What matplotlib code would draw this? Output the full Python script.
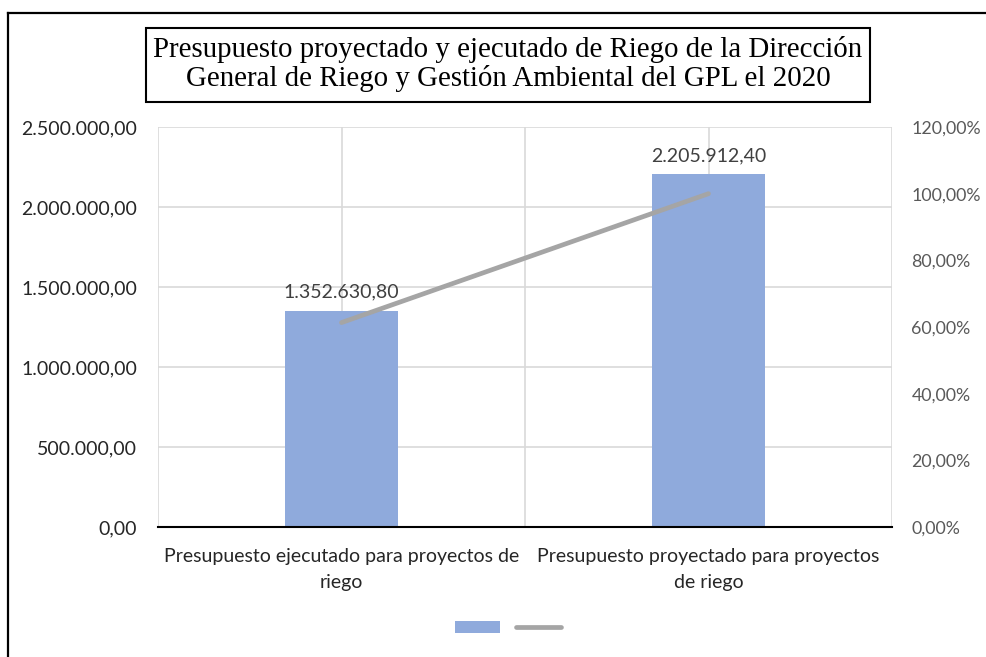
import matplotlib
matplotlib.use("Agg")
import matplotlib.pyplot as plt
from matplotlib.patches import Rectangle, Patch
from matplotlib.lines import Line2D
from matplotlib.ticker import FuncFormatter

# data
categories = ["Presupuesto ejecutado para proyectos de\nriego",
              "Presupuesto proyectado para proyectos\nde riego"]
montos = [1352630.80, 2205912.40]
porcentajes = [0.6132, 1.00]
left_ticks = [0, 500000, 1000000, 1500000, 2000000, 2500000]
right_ticks = [0, 0.2, 0.4, 0.6, 0.8, 1.0, 1.2]
title = ("Presupuesto proyectado y ejecutado de Riego de la Dirección\n"
         "General de Riego y Gestión Ambiental del GPL el 2020")

BAR_C = "#8faadc"
LINE_C = "#a5a5a5"
GRID_C = "#d9d9d9"


def fmt_num(v, pos=None):
    s = "{:,.2f}".format(v)
    return s.replace(",", "X").replace(".", ",").replace("X", ".")


def fmt_pct(v, pos=None):
    return "{:.2f}%".format(v * 100).replace(".", ",")


plt.rcParams['font.family'] = ['Lato', 'DejaVu Sans']

W, H = 987, 657
fig = plt.figure(figsize=(W / 100, H / 100), dpi=100)

# outer chart border: only left and top edges are inside the picture
fig.add_artist(Line2D([8 / W, 8 / W], [0, 1 - 13 / H], transform=fig.transFigure,
                      color="black", lw=1.6))
fig.add_artist(Line2D([8 / W, 1], [1 - 13 / H, 1 - 13 / H], transform=fig.transFigure,
                      color="black", lw=1.6))

ax = fig.add_axes([158 / W, 130 / H, 734 / W, 400 / H])
x = list(range(len(categories)))
bars = ax.bar(x, montos, width=0.31, color=BAR_C, zorder=3)
ax.set_xlim(-0.5, 1.5)
ax.set_ylim(0, 2500000)
ax.set_yticks(left_ticks)
ax.yaxis.set_major_formatter(FuncFormatter(fmt_num))
ax.set_xticks(x)
ax.set_xticklabels(categories, fontsize=14, color="#262626", linespacing=1.62)
ax.tick_params(axis="x", length=0, pad=15)
ax.tick_params(axis="y", length=0, pad=15, labelsize=14, labelcolor="#262626")

# grid: horizontal at ticks, vertical every half category
ax.grid(axis="y", color=GRID_C, lw=1.2, zorder=0)
for gx in [-0.5, 0, 0.5, 1, 1.5]:
    ax.axvline(gx, color=GRID_C, lw=1.2, zorder=0)

for s in ["top", "left", "right"]:
    ax.spines[s].set_visible(False)
ax.spines["bottom"].set_color("black")
ax.spines["bottom"].set_linewidth(1.5)
ax.spines["bottom"].set_zorder(4)

for b, v in zip(bars, montos):
    ax.annotate(fmt_num(v), (b.get_x() + b.get_width() / 2, v),
                xytext=(0, 7), textcoords="offset points",
                ha="center", va="bottom", fontsize=14, color="#404040")

ax2 = ax.twinx()
ax2.plot(x, porcentajes, color=LINE_C, lw=3.4, solid_capstyle="round", zorder=5)
ax2.set_ylim(0, 1.2)
ax2.set_yticks(right_ticks)
ax2.yaxis.set_major_formatter(FuncFormatter(fmt_pct))
ax2.tick_params(axis="y", length=0, pad=14, labelsize=12.8, labelcolor="#595959")
for s in ax2.spines.values():
    s.set_visible(False)

# title in a box
fig.patches.append(Rectangle((146 / W, 1 - 102 / H), (870 - 146) / W, 74 / H,
                             transform=fig.transFigure, fill=False,
                             ec="black", lw=1.5))
fig.text(508 / W, 1 - 64 / H, title, ha="center", va="center",
         family="Liberation Serif", fontsize=20.8, linespacing=1.08)

handles = [Patch(facecolor=BAR_C), Line2D([0], [0], color=LINE_C, lw=3.4,
                                          solid_capstyle="round")]
fig.legend(handles, ["", ""], ncol=2, frameon=False, loc="center",
           bbox_to_anchor=(508 / W, 1 - 628 / H), fontsize=12,
           handlelength=2.7, handleheight=0.75, handletextpad=0,
           columnspacing=1.0)

fig.savefig("out.png", dpi=100)
